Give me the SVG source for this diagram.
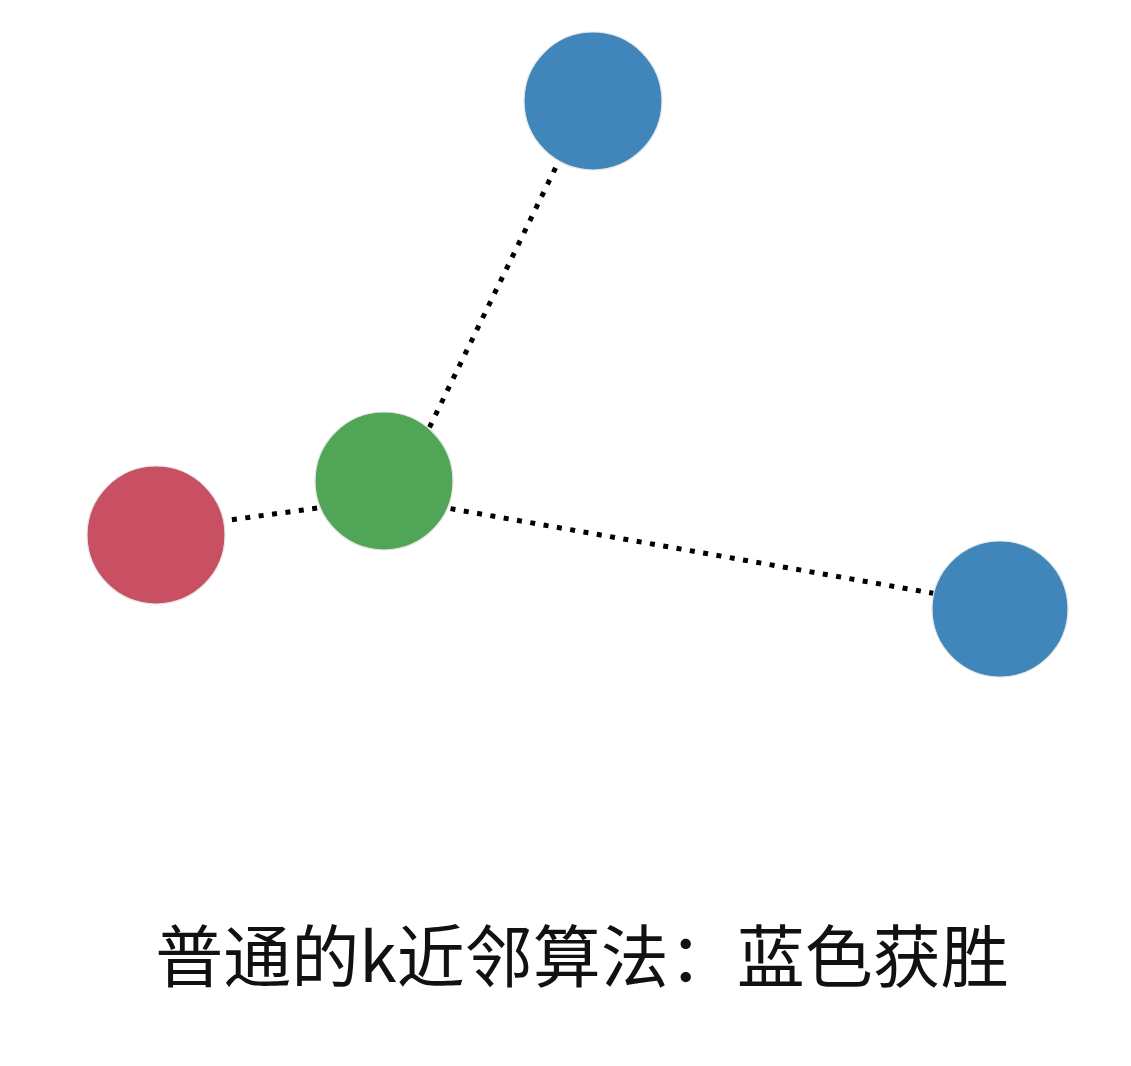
<svg xmlns="http://www.w3.org/2000/svg" width="1131" height="1066" viewBox="0 0 1131 1066">
<style>
.edge{stroke:#000;stroke-width:5;stroke-dasharray:5 8.5;fill:none}
.node{stroke:#e6e6e6;stroke-width:1.2}
.red{fill:#c94f62}
.green{fill:#51a556}
.blue{fill:#4086ba}
.label{font-family:"Noto Sans CJK SC","Noto Sans",sans-serif;font-size:68px;fill:#111;text-anchor:middle}
</style>
<rect width="1131" height="1066" fill="#fff"/>
<g id="connectors">
<line class="edge" x1="400" y1="488" x2="588" y2="101"/>
<line class="edge" x1="384" y1="499" x2="156" y2="530"/>
<line class="edge" x1="384" y1="497" x2="1000" y2="605"/>
</g>
<g id="node-blue-top"><circle class="node blue" cx="593" cy="101" r="69"/></g>
<g id="node-green"><circle class="node green" cx="384" cy="481" r="69"/></g>
<g id="node-red"><circle class="node red" cx="156" cy="535" r="69"/></g>
<g id="node-blue-right"><circle class="node blue" cx="1000" cy="609" r="68"/></g>
<g id="caption"><text class="label" x="582" y="982">普通的k近邻算法：蓝色获胜</text></g>
</svg>
